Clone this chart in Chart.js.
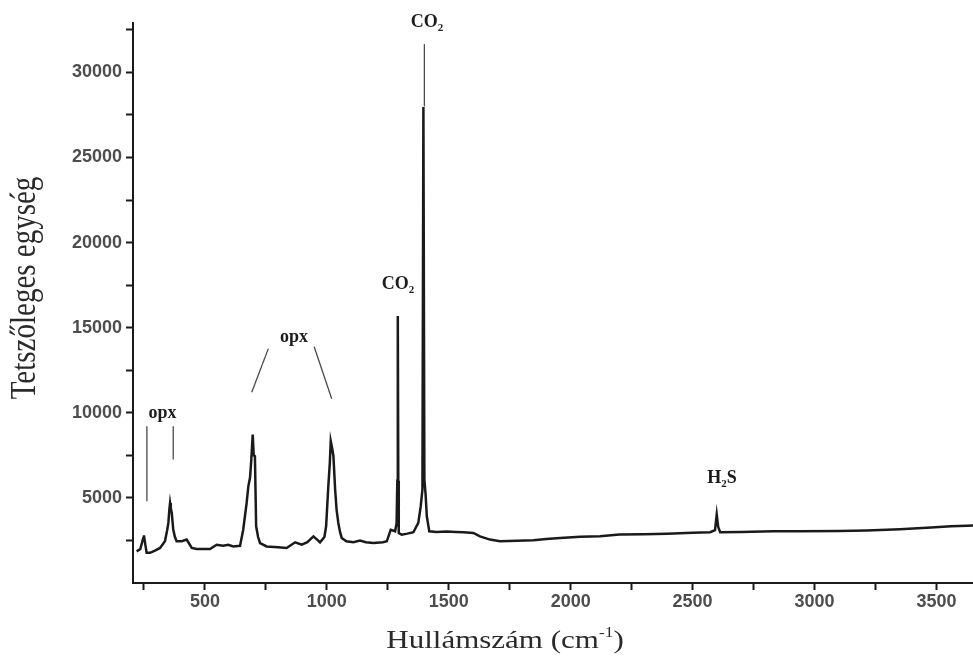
<!DOCTYPE html>
<html>
<head>
<meta charset="utf-8">
<script src="https://cdn.jsdelivr.net/npm/chart.js@4.4.1/dist/chart.umd.min.js"></script>
<style>
  html, body { margin: 0; padding: 0; background: #fff; }
  canvas { display: block; }
</style>
</head>
<body>
<canvas id="ramanChart" width="973" height="658"></canvas>
<script>
// Raman spectrum: wavenumber (cm-1) and intensity (arbitrary units)
const wavenumbers = [
  220, 235, 247, 250, 255, 261, 275, 295, 316, 336, 345, 350, 354, 357, 360, 364, 370, 377, 384, 405,
  425, 446, 466, 521, 548, 575, 596, 616, 644, 657, 671, 678, 685, 690, 696, 700, 705, 708, 710, 718,
  726, 753, 800, 835, 870, 897, 920, 945, 960, 972, 990, 997, 1006, 1012, 1016, 1022, 1027, 1034, 1040, 1047,
  1054, 1061, 1080, 1109, 1136, 1160, 1191, 1230, 1246, 1262, 1280, 1286, 1289, 1291, 1293, 1295, 1307, 1330, 1355, 1375,
  1385, 1392, 1396, 1400, 1405, 1410, 1420, 1450, 1492, 1530, 1560, 1601, 1628, 1669, 1710, 1780, 1847, 1900, 1957, 2039,
  2120, 2200, 2300, 2394, 2500, 2572, 2592, 2599, 2605, 2613, 2700, 2831, 2941, 3100, 3214, 3350, 3461, 3560, 3625, 3650
];
const intensities = [
  1860, 2000, 2650, 2800, 2300, 1770, 1770, 1900, 2060, 2450, 3100, 3530, 4300, 4700, 4400, 4120, 3140, 2700, 2450, 2450,
  2550, 2060, 2000, 2000, 2250, 2190, 2250, 2150, 2190, 3130, 4700, 5680, 6200, 7200, 8720, 7500, 7450, 5000, 3330, 2700,
  2350, 2150, 2100, 2060, 2390, 2250, 2400, 2740, 2550, 2390, 2700, 3330, 5680, 7000, 8330, 7900, 7450, 5490, 4300, 3530,
  3000, 2650, 2450, 2390, 2490, 2400, 2350, 2400, 2450, 3130, 3040, 3500, 6000, 15680, 6000, 2940, 2840, 2900, 2980, 3530,
  4500, 5500, 27960, 6080, 5200, 3920, 3040, 3000, 3030, 3000, 2980, 2940, 2740, 2550, 2450, 2480, 2510, 2580, 2650, 2710,
  2750, 2850, 2870, 2900, 2950, 2980, 3100, 4020, 3300, 2980, 2990, 3040, 3040, 3060, 3090, 3160, 3240, 3330, 3370, 3380
];

// axis ticks (minor every 250 / 2500, labels on the majors)
const xTickValues = [250, 500, 750, 1000, 1250, 1500, 1750, 2000, 2250, 2500, 2750, 3000, 3250, 3500];
const xTickLabels = [500, 1000, 1500, 2000, 2500, 3000, 3500];
const yTickValues = [2500, 5000, 7500, 10000, 12500, 15000, 17500, 20000, 22500, 25000, 27500, 30000, 32500];
const yTickLabels = [5000, 10000, 15000, 20000, 25000, 30000];

// peak marker lines, in data units: [[x1, y1], [x2, y2]]
const markerLines = [
  [[262, 4800], [262, 9210]],
  [[370, 7250], [370, 9210]],
  [[692, 11210], [760, 13770]],
  [[948, 13880], [1020, 10820]],
  [[1400, 28000], [1400, 31660]]
];

// peak labels: text, subscript, trailing text, anchor in data units
const peakLabels = [
  { text: 'opx', sub: '', tail: '', x: 326, y: 9960 },
  { text: 'opx', sub: '', tail: '', x: 865, y: 14460 },
  { text: 'CO', sub: '2', tail: '', x: 1292, y: 17545 },
  { text: 'CO', sub: '2', tail: '', x: 1411, y: 32950 },
  { text: 'H', sub: '2', tail: 'S', x: 2621, y: 6135 }
];

const serif = '"Liberation Serif", "Times New Roman", serif';
const tickFont = { family: '"Liberation Sans", Arial, sans-serif', size: 18, weight: 'bold' };

function drawSubText(ctx, lab, cx, cy) {
  const big = 'bold 18px ' + serif;
  const small = 'bold 11px ' + serif;
  ctx.font = big;
  const w1 = ctx.measureText(lab.text).width;
  const w3 = ctx.measureText(lab.tail).width;
  ctx.font = small;
  const w2 = ctx.measureText(lab.sub).width;
  let x0 = cx - (w1 + w2 + w3) / 2;
  ctx.font = big;
  ctx.fillText(lab.text, x0, cy);
  ctx.font = small;
  ctx.fillText(lab.sub, x0 + w1, cy + 6);
  ctx.font = big;
  ctx.fillText(lab.tail, x0 + w1 + w2, cy);
}

const annotate = {
  id: 'annotate',
  afterDraw(chart) {
    const { ctx, scales: { x, y } } = chart;
    ctx.save();
    ctx.fillStyle = '#1c1c1c';
    ctx.textBaseline = 'middle';
    ctx.textAlign = 'left';
    peakLabels.forEach(l => drawSubText(ctx, l, x.getPixelForValue(l.x), y.getPixelForValue(l.y)));

    // axis titles
    ctx.fillStyle = '#2a2a2a';
    ctx.textBaseline = 'alphabetic';
    ctx.save();
    ctx.translate(505, 648);
    ctx.scale(1.24, 1);
    ctx.font = '25px ' + serif;
    const main = 'Hullámszám (cm';
    const wMain = ctx.measureText(main).width;
    ctx.font = '14px ' + serif;
    const wSup = ctx.measureText('-1').width;
    ctx.font = '25px ' + serif;
    const wEnd = ctx.measureText(')').width;
    let sx = -(wMain + wSup + wEnd) / 2;
    ctx.fillText(main, sx, 0);
    ctx.font = '14px ' + serif;
    ctx.fillText('-1', sx + wMain, -11);
    ctx.font = '25px ' + serif;
    ctx.fillText(')', sx + wMain + wSup, 0);
    ctx.restore();

    ctx.save();
    ctx.translate(26, 288);
    ctx.rotate(-Math.PI / 2);
    ctx.scale(1, 1.2);
    ctx.font = '29px ' + serif;
    ctx.textAlign = 'center';
    ctx.textBaseline = 'middle';
    ctx.fillText('Tetszőleges egység', 0, 0);
    ctx.restore();
    ctx.restore();
  }
};

const datasets = [{
  data: wavenumbers.map((w, i) => ({ x: w, y: intensities[i] })),
  borderColor: '#1a1a1a',
  borderWidth: 2.5,
  pointRadius: 0,
  tension: 0
}].concat(markerLines.map(seg => ({
  data: seg.map(p => ({ x: p[0], y: p[1] })),
  borderColor: '#4a4a4a',
  borderWidth: 1.3,
  pointRadius: 0,
  tension: 0
})));

new Chart(document.getElementById('ramanChart').getContext('2d'), {
  type: 'line',
  data: { datasets },
  options: {
    responsive: false,
    animation: false,
    devicePixelRatio: 1,
    layout: { padding: { top: 23, left: 0, right: 0, bottom: 0 } },
    plugins: { legend: { display: false }, tooltip: { enabled: false } },
    scales: {
      x: {
        type: 'linear',
        min: 205,
        max: 3650,
        afterFit: s => { s.height = 75; },
        afterBuildTicks: s => { s.ticks = xTickValues.map(v => ({ value: v })); },
        border: { color: '#1a1a1a', width: 2 },
        grid: { drawOnChartArea: false, tickLength: 7, tickColor: '#1a1a1a', tickWidth: 2 },
        ticks: {
          autoSkip: false,
          maxRotation: 0,
          padding: 1,
          color: '#4d4d4d',
          font: tickFont,
          callback: v => xTickLabels.includes(v) ? String(v) : ''
        }
      },
      y: {
        type: 'linear',
        min: 0,
        max: 32900,
        afterFit: s => { s.width = 133; },
        afterBuildTicks: s => { s.ticks = yTickValues.map(v => ({ value: v })); },
        border: { color: '#1a1a1a', width: 2 },
        grid: { drawOnChartArea: false, tickLength: 7, tickColor: '#1a1a1a', tickWidth: 2 },
        ticks: {
          autoSkip: false,
          padding: 4,
          color: '#4d4d4d',
          font: tickFont,
          callback: v => yTickLabels.includes(v) ? String(v) : ''
        }
      }
    }
  },
  plugins: [annotate]
});
</script>
</body>
</html>
